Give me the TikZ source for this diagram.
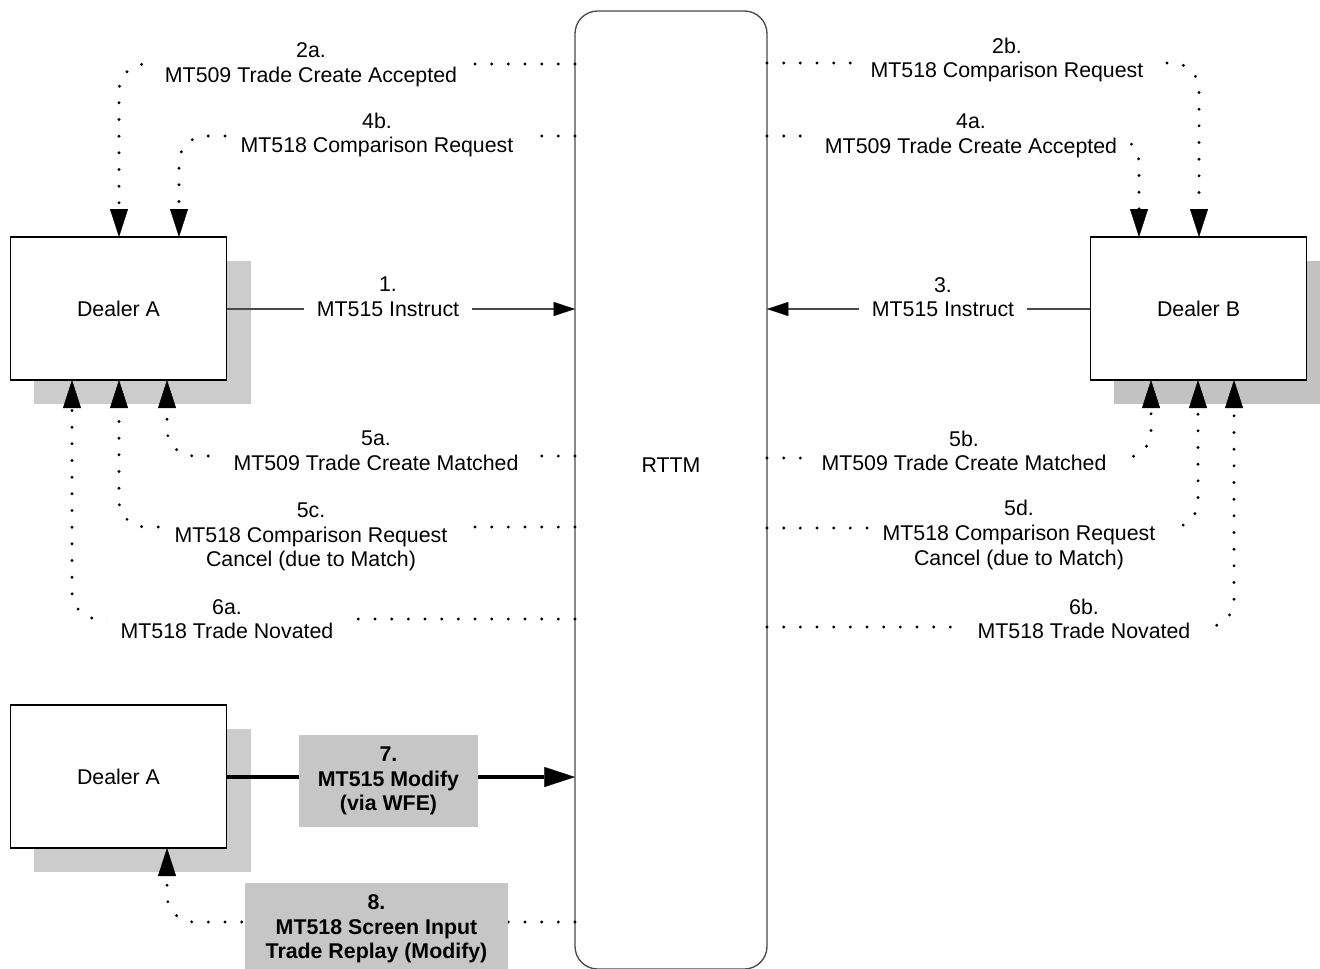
\documentclass[tikz,border=0pt]{standalone}
\usepackage{fontspec}
\setmainfont{Liberation Sans}
\usetikzlibrary{arrows.meta,shadows}
\definecolor{shadowA}{HTML}{CCCCCC}
\definecolor{shadowB}{HTML}{C2C2C2}
\definecolor{labelgray}{HTML}{C6C6C6}
\definecolor{edgegray}{HTML}{4A4A4A}
\begin{document}
\begin{tikzpicture}[x=0.75pt,y=-0.75pt,
  txt/.style={font=\fontsize{16pt}{18.4pt}\selectfont},
  dealer/.style={txt, draw=black, line width=0.8pt, fill=white, minimum width=162.5pt,
    minimum height=107.25pt, inner sep=0pt, outer sep=0pt,
    drop shadow={shadow xshift=18pt, shadow yshift=-18pt, fill=shadowA, opacity=1}},
  dealerb/.style={dealer, drop shadow={shadow xshift=18pt, shadow yshift=-18pt, fill=shadowB, opacity=1}},
  rttmbox/.style={draw=edgegray, line width=1pt, rounded corners=17pt, minimum width=144pt,
    minimum height=718.5pt, inner sep=0pt, outer sep=0pt},
  msg/.style={txt, fill=white, inner xsep=10pt, inner ysep=2pt, align=center},
  graymsg/.style={fill=labelgray, align=center, inner sep=0pt, minimum height=69pt,
    font=\bfseries\fontsize{16pt}{18.4pt}\selectfont},
  dotline/.style={line width=2.4pt, dash pattern=on 0pt off 12.5pt, line cap=round,
    rounded corners=20pt, -{Triangle[length=21pt,width=13.5pt,line width=0.3pt]}},
  thinarrow/.style={draw=edgegray, line width=0.9pt,
    -{Triangle[length=16pt,width=10.5pt,line width=0.2pt,color=black]}},
  thickarrow/.style={line width=2.8pt, -{Triangle[length=23pt,width=15pt,line width=0.2pt]}}
]
\useasboundingbox (0,0) rectangle (1320,968);

% main boxes
\node[rttmbox] (rttm) at (671,490) {};
\node[txt] (rttmtext) at (671,465) {RTTM};
\node[dealer] (dA) at (118.5,308.5) {Dealer A};
\node[dealerb] (dB) at (1198.5,308.5) {Dealer B};
\node[dealer] (dA2) at (118.5,776.5) {Dealer A};

% connectors left
\draw[dotline] (rttm.west |- 0,64) -- (119,64) -- (dA.north -| 119,0);
\draw[dotline] (rttm.west |- 0,136) -- (179,136) -- (dA.north -| 179,0);
\draw[thinarrow] (dA.east |- 0,309) -- (rttm.west |- 0,309);
\draw[dotline] (rttm.west |- 0,456) -- (167,456) -- (dA.south -| 167,0);
\draw[dotline] (rttm.west |- 0,527) -- (119,527) -- (dA.south -| 119,0);
\draw[dotline] (rttm.west |- 0,619) -- (72,619) -- (dA.south -| 72,0);
\draw[thickarrow] (dA2.east |- 0,777) -- (rttm.west |- 0,777);
\draw[dotline] (rttm.west |- 0,922) -- (167,922) -- (dA2.south -| 167,0);

% connectors right
\draw[dotline] (rttm.east |- 0,63) -- (1199,63) -- (dB.north -| 1199,0);
\draw[dotline] (rttm.east |- 0,136) -- (1139,136) -- (dB.north -| 1139,0);
\draw[thinarrow] (dB.west |- 0,309) -- (rttm.east |- 0,309);
\draw[dotline] (rttm.east |- 0,458) -- (1151,458) -- (dB.south -| 1151,0);
\draw[dotline] (rttm.east |- 0,528) -- (1198,528) -- (dB.south -| 1198,0);
\draw[dotline] (rttm.east |- 0,627) -- (1234,627) -- (dB.south -| 1234,0);

% labels left
\node[msg] (l2a) at (311,65) {2a.\\MT509 Trade Create Accepted};
\node[msg] (l4b) at (377,135) {4b.\\MT518 Comparison Request};
\node[msg] (l1) at (388,297) {1.\\MT515 Instruct};
\node[msg] (l5a) at (376,451) {5a.\\MT509 Trade Create Matched};
\node[msg] (l5c) at (311,537) {5c.\\MT518 Comparison Request\\Cancel (due to Match)};
\node[msg] (l6a) at (227,619) {6a.\\MT518 Trade Novated};
\node[graymsg, minimum width=134.25pt] (l7) at (388.5,781) {7.\\MT515 Modify\\(via WFE)};
\node[graymsg, minimum width=197.25pt] (l8) at (376.5,929) {8.\\MT518 Screen Input\\Trade Replay (Modify)};

% labels right
\node[msg] (l2b) at (1007,60) {2b.\\MT518 Comparison Request};
\node[msg] (l4a) at (971,136) {4a.\\MT509 Trade Create Accepted};
\node[msg] (l3) at (943,297) {3.\\MT515 Instruct};
\node[msg] (l5b) at (964,451) {5b.\\MT509 Trade Create Matched};
\node[msg] (l5d) at (1019,535) {5d.\\MT518 Comparison Request\\Cancel (due to Match)};
\node[msg] (l6b) at (1084,619) {6b.\\MT518 Trade Novated};
\end{tikzpicture}
\end{document}
